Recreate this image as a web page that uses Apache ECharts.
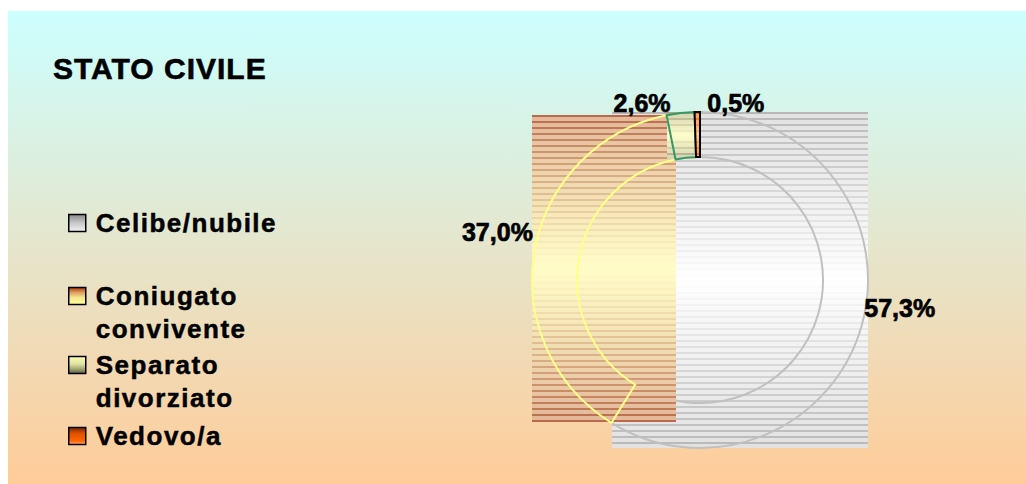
<!DOCTYPE html>
<html>
<head>
<meta charset="utf-8">
<script src="https://cdn.jsdelivr.net/npm/echarts@6/dist/echarts.min.js"></script>
<style>
html,body{margin:0;padding:0;background:#ffffff;}
#wrap{position:relative;width:1026px;height:484px;overflow:hidden;}
#bg{position:absolute;left:8px;top:11px;width:1018px;height:473px;background:linear-gradient(#ccffff,#ffcc99);}
#c{position:absolute;left:0;top:0;width:1026px;height:484px;}
#c svg text[style*="Arial"]{letter-spacing:1.5px;}
#c svg text[style*="Helvetica"]{letter-spacing:1px;}
</style>
</head>
<body>
<div id="wrap"><div id="bg"></div><div id="c"></div></div>
<script>
// ---- data ----
const titleText = 'STATO CIVILE';
const categories = ['Celibe/nubile', 'Coniugato convivente', 'Separato divorziato', 'Vedovo/a'];
const values = [57.3, 37.0, 2.6, 0.5];

// ---- styles ----
const sliceStroke = ['#c0c0c0', '#ffff88', '#339966', '#000000'];
const sliceMid    = ['#ffffff', '#fffcc8', '#ffffcc', '#ffd8b0'];
const sliceLight  = ['#e2e2e2', '#e2b69a', '#d4d2b0', '#ff9a50'];
const sliceDark   = ['#b8b8b8', '#b86a48', '#a4a282', '#ff6600'];
const slicePow    = [0.9, 1.2, 1.0, 0.6];
const legendColors = [
  [[0, '#8a8a8a'], [0.5, '#c8c8c8'], [1, '#f2f2f2']],
  [[0, '#a83c10'], [0.3, '#e0a060'], [0.6, '#f8e890'], [1, '#ffff99']],
  [[0, '#ffffb0'], [0.45, '#e0e0a0'], [0.75, '#a0a070'], [1, '#606040']],
  [[0, '#7a2800'], [0.35, '#e05000'], [0.8, '#ff6600'], [1, '#ffb080']]
];
const legendCenterY = [223, 296, 365, 436];
const LINE_H = 33;
const LABEL_FONT = '"Liberation Sans", sans-serif';
const LEGEND_FONT = 'Arial, "Liberation Sans", sans-serif';
const TITLE_FONT = 'Arial, Helvetica, sans-serif';

function hexRgb(c){ c = c.replace('#',''); return [0,2,4].map(i => parseInt(c.substr(i,2),16)); }
function mix(a, b, t){ const A = hexRgb(a), B = hexRgb(b); return 'rgb(' + A.map((v,i) => Math.round(v + (B[i]-v)*t)).join(',') + ')'; }
function linGrad(stops){
  return {type:'linear', x:0, y:0, x2:0, y2:1, colorStops: stops.map(s => ({offset:s[0], color:s[1]}))};
}
function stripedFill(h, i){
  const rows = Math.max(3, Math.round(h/2));
  const stops = [];
  for (let k = 0; k < rows; k++){
    const t = (k + 0.5)/rows;
    const d = Math.pow(Math.min(1, Math.abs(t - 0.5)*2), slicePow[i]);
    const c = (k % 3 === 0) ? mix(sliceMid[i], sliceDark[i], d) : mix(sliceMid[i], sliceLight[i], d);
    stops.push({offset:k/rows, color:c}, {offset:(k+1)/rows, color:c});
  }
  return {type:'linear', x:0, y:0, x2:0, y2:1, colorStops: stops};
}
const mctx = document.createElement('canvas').getContext('2d');
function textW(t){ mctx.font = 'bold 25px "Liberation Sans"'; return mctx.measureText(t).width; }
function fmt(v){ return v.toFixed(1).replace('.', ',') + '%'; }

function geometry(params, api){
  const cs = params.coordSys;
  const cx = cs.cx, cy = cs.cy, r = cs.r, r0 = cs.r0;
  const ang = v => { const p = api.coord([1, v]); return Math.atan2(p[1]-cy, p[0]-cx); };
  const out = [];
  let cum = 0;
  const boxes = [];
  values.forEach((v, j) => {
    const a0 = ang(cum);
    let a1 = ang(cum + v);
    while (a1 <= a0) a1 += Math.PI*2;
    cum += v;
    let x0 = Infinity, y0 = Infinity, x1 = -Infinity, y1 = -Infinity;
    const n = 180;
    for (let k = 0; k <= n; k++){
      const a = a0 + (a1 - a0)*k/n;
      [r0, r].forEach(rr => {
        const x = cx + rr*Math.cos(a), y = cy + rr*Math.sin(a);
        x0 = Math.min(x0, x); y0 = Math.min(y0, y); x1 = Math.max(x1, x); y1 = Math.max(y1, y);
      });
    }
    const am = (a0 + a1)/2;
    const ax = cx + r*Math.cos(am), ay = cy + r*Math.sin(am);
    const txt = fmt(v);
    const w = textW(txt);
    const dx = 10*Math.abs(Math.sin(am));
    const ly = ay - 8.7 - 10*Math.abs(Math.cos(am));
    let right = Math.cos(am) >= 0;
    const boxOf = (rt) => rt ? [ax + dx, ax + dx + w] : [ax - dx - w, ax - dx];
    let bx = boxOf(right);
    const hit = b => boxes.some(o => Math.abs(o.y - ly) < 25 && b[0] < o.b[1] && b[1] > o.b[0]);
    if (hit(bx)) { right = !right; bx = boxOf(right); }
    boxes.push({y: ly, b: bx});
    out.push({cx, cy, r, r0, a0, a1, x0, y0, x1, y1, txt, lx: right ? ax + dx : ax - dx, ly, align: right ? 'left' : 'right'});
  });
  return out;
}

function makeRender(i){
  return function(params, api){
    const g = geometry(params, api)[i];
    const h = g.y1 - g.y0;
    return {
      type: 'group',
      children: [
        {type:'rect', shape:{x: Math.round(g.x0), y: Math.round(g.y0), width: Math.round(g.x1 - g.x0), height: Math.round(h)},
         style:{fill: stripedFill(h, i)}},
        {type:'sector', shape:{cx:g.cx, cy:g.cy, r0:g.r0, r:g.r, startAngle:g.a0, endAngle:g.a1, clockwise:true},
         style:{fill:'none', stroke: sliceStroke[i], lineWidth:2}},
        {type:'text', z2: 20, style:{text: g.txt, x: g.lx, y: g.ly, fill:'#000', stroke:'#000', lineWidth:0.7,
          fontSize:25, fontWeight:'bold', fontFamily: LABEL_FONT, align: g.align, verticalAlign:'middle'}}
      ]
    };
  };
}

const total = values.reduce((a, b) => a + b, 0);

const chart = echarts.init(document.getElementById('c'), null, {renderer:'svg'});
chart.setOption({
  backgroundColor: 'transparent',
  animation: false,
  title: {
    text: titleText, left: 53, top: 53, padding: 0,
    textStyle: {fontFamily: TITLE_FONT, fontSize: 30, fontWeight: 'bold', color: '#000', lineHeight: 30,
      textBorderColor: '#000', textBorderWidth: 0.6}
  },
  polar: {center: [700, 280], radius: [123, 168]},
  angleAxis: {type:'value', min:0, max: total, startAngle: 90, clockwise: true, show: false},
  radiusAxis: {type:'value', min:0, max:1, show:false},
  legend: categories.map((name, i) => {
    const lines = name.indexOf(' ') >= 0 ? 3 : 1;
    return {
      orient: 'vertical', left: 68, top: legendCenterY[i] - lines*LINE_H/2, padding: 0,
      icon: 'rect', itemWidth: 17, itemHeight: 17, selectedMode: false,
      itemStyle: {borderColor: '#000', borderWidth: 1.5},
      data: [{name: name, itemStyle: {color: linGrad(legendColors[i]), borderColor:'#000', borderWidth:1.5}}],
      formatter: n => (n.indexOf(' ') >= 0 ? '\n' + n.replace(' ', '\n') : n),
      textStyle: {fontFamily: LEGEND_FONT, fontWeight: 'bold', fontSize: 26, color: '#000', lineHeight: LINE_H,
        textBorderColor: '#000', textBorderWidth: 0.5, padding: [0, 0, 0, 5]}
    };
  }),
  series: categories.map((name, i) => ({
    type: 'custom',
    name: name,
    coordinateSystem: 'polar',
    silent: true,
    itemStyle: {color: linGrad(legendColors[i])},
    data: [[1, values[i]]],
    renderItem: makeRender(i)
  }))
});
</script>
</body>
</html>
